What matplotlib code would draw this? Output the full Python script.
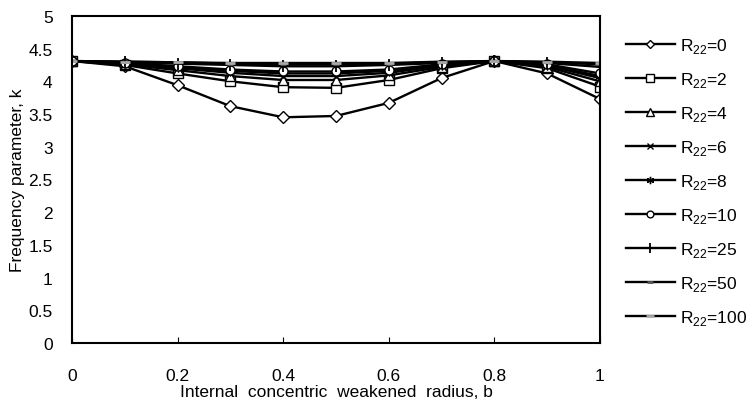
import matplotlib.pyplot as plt
import numpy as np

plt.rcParams['font.family'] = ['Liberation Sans', 'DejaVu Sans']
plt.rcParams['mathtext.fontset'] = 'custom'
plt.rcParams['mathtext.rm'] = 'Liberation Sans'

b = [0, 0.1, 0.2, 0.3, 0.4, 0.5, 0.6, 0.7, 0.8, 0.9, 1.0]
r22 = ['0', '2', '4', '6', '8', '10', '25', '50', '100']

k_r0 = [4.31, 4.23, 3.94, 3.62, 3.45, 3.47, 3.67, 4.05, 4.31, 4.12, 3.73]
k_r2 = [4.31, 4.25, 4.12, 4.00, 3.91, 3.90, 4.02, 4.20, 4.31, 4.20, 3.92]
k_r4 = [4.31, 4.26, 4.17, 4.08, 4.02, 4.02, 4.09, 4.22, 4.31, 4.22, 4.00]
k_r6 = [4.31, 4.27, 4.20, 4.13, 4.08, 4.08, 4.13, 4.24, 4.31, 4.24, 4.05]
k_r8 = [4.31, 4.28, 4.22, 4.16, 4.12, 4.12, 4.16, 4.25, 4.31, 4.25, 4.08]
k_r10 = [4.31, 4.28, 4.23, 4.18, 4.15, 4.15, 4.18, 4.26, 4.31, 4.26, 4.12]
k_r25 = [4.31, 4.29, 4.27, 4.25, 4.23, 4.23, 4.25, 4.28, 4.31, 4.28, 4.22]
k_r50 = [4.31, 4.30, 4.29, 4.27, 4.26, 4.26, 4.27, 4.29, 4.31, 4.29, 4.26]
k_r100 = [4.31, 4.30, 4.29, 4.28, 4.28, 4.28, 4.28, 4.30, 4.31, 4.30, 4.28]

series = [k_r0, k_r2, k_r4, k_r6, k_r8, k_r10, k_r25, k_r50, k_r100]
styles = [
    dict(marker='D', ms=6, mfc='white', mec='black'),
    dict(marker='s', ms=7.5, mfc='white', mec='black'),
    dict(marker='^', ms=7.5, mfc='white', mec='black'),
    dict(marker='x', ms=6, mec='black'),
    dict(marker=(6, 2, 0), ms=7, mec='black'),
    dict(marker='o', ms=6.5, mfc='white', mec='black'),
    dict(marker='|', ms=9, mec='black', mew=1.3),
    dict(marker='_', ms=5, mec='#555555', mew=2),
    dict(marker='_', ms=7, mec='#aaaaaa', mew=2),
]

fig = plt.figure(figsize=(7.48, 4.02), dpi=100)
ax = fig.add_axes([0.0963, 0.1443, 0.7057, 0.8137])

for vals, lab, st in zip(series, r22, styles):
    ax.plot(b, vals, color='black', lw=1.7, label=r'R$_{22}$=' + lab, **st)

ax.set_xlim(0, 1)
ax.set_ylim(0, 5)
ax.set_xticks(np.arange(0, 1.01, 0.2))
ax.set_xticklabels(['0', '0.2', '0.4', '0.6', '0.8', '1'])
ax.set_yticks(np.arange(0, 5.01, 0.5))
ax.set_yticklabels(['0', '0.5', '1', '1.5', '2', '2.5', '3', '3.5', '4', '4.5', '5'])
ax.tick_params(axis='x', direction='in', length=4, pad=18, labelsize=12.5)
ax.tick_params(axis='y', direction='in', length=0, pad=14, labelsize=12.5)
for sp in ax.spines.values():
    sp.set_linewidth(1.5)

ax.set_xlabel('Internal  concentric  weakened  radius, b', fontsize=12.5, labelpad=1)
ax.set_ylabel('Frequency parameter, k', fontsize=12.5, labelpad=2)

ax.legend(loc='upper left', bbox_to_anchor=(1.02, 0.985), frameon=False,
          fontsize=12.5, handlelength=2.8, labelspacing=0.86, handletextpad=0.3,
          markerscale=0.75)

fig.savefig('out.png', dpi=100)
